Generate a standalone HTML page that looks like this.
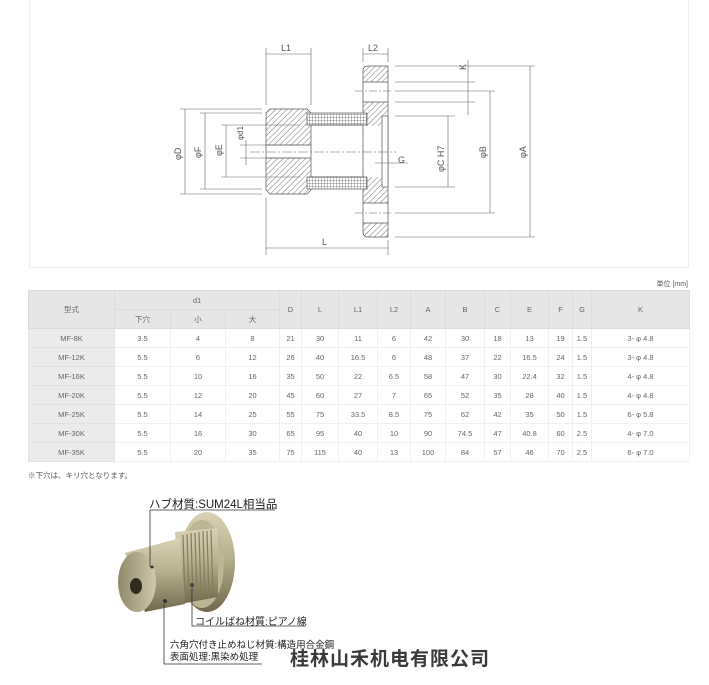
<!DOCTYPE html>
<html><head><meta charset="utf-8"><style>
body{margin:0;width:709px;height:685px;background:#fff;position:relative;overflow:hidden;font-family:"Liberation Sans","Noto Sans CJK JP",sans-serif}
.panel{position:absolute;left:29px;top:0;width:658px;height:267px;border:1px solid #eee;border-top:none;background:#fff}
table{position:absolute;left:28px;top:290px;border-collapse:collapse;font-size:7.5px;color:#666}
td{height:18px;text-align:center;border:1px solid #f0f0f0;padding:0;background:#fff}
tr.h td{background:#e6e6e6;border-color:#dcdcdc}
td.m{background:#ebebeb;border-color:#e2e2e2}
.t{position:absolute;font-size:8px;color:#555;white-space:nowrap}
</style></head><body>
<div class="panel"></div>
<svg style="position:absolute;left:0;top:0" width="709" height="270">
<defs>
<pattern id="h" width="4" height="4" patternUnits="userSpaceOnUse" patternTransform="rotate(45)"><rect width="4" height="4" fill="#fff"/><line x1="0" y1="0" x2="0" y2="4" stroke="#777" stroke-width="1"/></pattern>
<pattern id="g" width="3" height="3" patternUnits="userSpaceOnUse"><rect width="3" height="3" fill="#fff"/><path d="M0 0H3M0 0V3" stroke="#666" stroke-width="0.8"/></pattern>
</defs>
<g stroke="#555" stroke-width="0.7" fill="none">
<path d="M368 66H388V237H368Q363 237 363 232V71Q363 66 368 66Z" fill="url(#h)"/>
<rect x="363.5" y="82" width="24" height="20" fill="#fff" stroke="none"/>
<rect x="363.5" y="203" width="24" height="20" fill="#fff" stroke="none"/>
<line x1="363" y1="82" x2="388" y2="82"/><line x1="363" y1="102" x2="388" y2="102"/>
<line x1="363" y1="203" x2="388" y2="203"/><line x1="363" y1="223" x2="388" y2="223"/>
<rect x="363.5" y="126" width="19" height="51" fill="#fff" stroke="none"/>
<rect x="382" y="116" width="6" height="71" fill="#fff"/>
<path d="M270 109H307L311 113V190L307 194H270L266 190V113Z" fill="url(#h)"/>
<rect x="266.5" y="145" width="44" height="13" fill="#fff" stroke="none"/>
<line x1="266" y1="145" x2="311" y2="145"/><line x1="266" y1="158" x2="311" y2="158"/>
<rect x="307" y="113" width="60" height="12" fill="url(#g)"/>
<rect x="307" y="177" width="60" height="12" fill="url(#g)"/>
<line x1="311" y1="125" x2="363" y2="125"/><line x1="311" y1="177" x2="363" y2="177"/>
</g>
<g stroke="#666" stroke-width="0.6" fill="none">
<line x1="250" y1="152" x2="396" y2="152" stroke-dasharray="10,2,2,2"/>
<line x1="355" y1="91" x2="392" y2="91" stroke-dasharray="8,2,2,2"/>
<line x1="355" y1="213" x2="392" y2="213" stroke-dasharray="8,2,2,2"/>
<line x1="266" y1="48" x2="266" y2="105"/><line x1="311" y1="48" x2="311" y2="105"/>
<line x1="363" y1="48" x2="363" y2="62"/><line x1="388" y1="48" x2="388" y2="62"/>
<line x1="266" y1="198" x2="266" y2="255"/><line x1="388" y1="240" x2="388" y2="255"/>
<line x1="266" y1="54" x2="311" y2="54"/><line x1="363" y1="54" x2="388" y2="54"/>
<line x1="266" y1="248" x2="388" y2="248"/>
<line x1="180" y1="109" x2="262" y2="109"/><line x1="180" y1="194" x2="262" y2="194"/>
<line x1="200" y1="113" x2="262" y2="113"/><line x1="200" y1="189" x2="262" y2="189"/>
<line x1="221" y1="125" x2="300" y2="125"/><line x1="221" y1="177" x2="300" y2="177"/>
<line x1="185" y1="109" x2="185" y2="194"/><line x1="205" y1="113" x2="205" y2="189"/>
<line x1="226" y1="125" x2="226" y2="177"/>
<line x1="246" y1="140" x2="246" y2="165"/><line x1="240" y1="145" x2="300" y2="145"/><line x1="240" y1="158" x2="300" y2="158"/>
<line x1="395" y1="66" x2="535" y2="66"/><line x1="395" y1="82" x2="475" y2="82"/>
<line x1="395" y1="91" x2="495" y2="91"/><line x1="395" y1="102" x2="475" y2="102"/>
<line x1="395" y1="116" x2="455" y2="116"/><line x1="395" y1="187" x2="455" y2="187"/>
<line x1="395" y1="213" x2="495" y2="213"/><line x1="395" y1="237" x2="535" y2="237"/>
<line x1="468" y1="60" x2="468" y2="115"/>
<line x1="448" y1="116" x2="448" y2="187"/><line x1="490" y1="91" x2="490" y2="213"/><line x1="530" y1="66" x2="530" y2="237"/>
<line x1="375" y1="163" x2="408" y2="163"/>
</g>
<g font-size="9" fill="#555" font-family="Liberation Sans,sans-serif">
<text x="281" y="51">L1</text><text x="368" y="51">L2</text><text x="322" y="245">L</text>
<text x="398" y="163">G</text>
<text transform="translate(466,70) rotate(-90)">K</text>
<text transform="translate(181,160) rotate(-90)">φD</text>
<text transform="translate(201,158) rotate(-90)">φF</text>
<text transform="translate(222,156) rotate(-90)">φE</text>
<text transform="translate(243,140) rotate(-90)" font-size="8">φd1</text>
<text transform="translate(444,172) rotate(-90)">φC H7</text>
<text transform="translate(486,158) rotate(-90)">φB</text>
<text transform="translate(526,158) rotate(-90)">φA</text>
</g>
</svg>
<div class="t" style="right:21px;top:279px;font-size:7px">単位 [mm]</div>
<table>
<colgroup><col style="width:86px"><col style="width:56px"><col style="width:55px"><col style="width:54px"><col style="width:22px"><col style="width:37px"><col style="width:39px"><col style="width:33px"><col style="width:35px"><col style="width:39px"><col style="width:26px"><col style="width:38px"><col style="width:24px"><col style="width:19px"><col style="width:98px"></colgroup>
<tr class="h"><td rowspan="2">型式</td><td colspan="3">d1</td><td rowspan="2">D</td><td rowspan="2">L</td><td rowspan="2">L1</td><td rowspan="2">L2</td><td rowspan="2">A</td><td rowspan="2">B</td><td rowspan="2">C</td><td rowspan="2">E</td><td rowspan="2">F</td><td rowspan="2">G</td><td rowspan="2">K</td></tr>
<tr class="h"><td>下穴</td><td>小</td><td>大</td></tr>
<tr><td class="m">MF-8K</td><td>3.5</td><td>4</td><td>8</td><td>21</td><td>30</td><td>11</td><td>6</td><td>42</td><td>30</td><td>18</td><td>13</td><td>19</td><td>1.5</td><td>3- φ 4.8</td></tr>
<tr><td class="m">MF-12K</td><td>5.5</td><td>6</td><td>12</td><td>26</td><td>40</td><td>16.5</td><td>6</td><td>48</td><td>37</td><td>22</td><td>16.5</td><td>24</td><td>1.5</td><td>3- φ 4.8</td></tr>
<tr><td class="m">MF-16K</td><td>5.5</td><td>10</td><td>16</td><td>35</td><td>50</td><td>22</td><td>6.5</td><td>58</td><td>47</td><td>30</td><td>22.4</td><td>32</td><td>1.5</td><td>4- φ 4.8</td></tr>
<tr><td class="m">MF-20K</td><td>5.5</td><td>12</td><td>20</td><td>45</td><td>60</td><td>27</td><td>7</td><td>65</td><td>52</td><td>35</td><td>28</td><td>40</td><td>1.5</td><td>4- φ 4.8</td></tr>
<tr><td class="m">MF-25K</td><td>5.5</td><td>14</td><td>25</td><td>55</td><td>75</td><td>33.5</td><td>8.5</td><td>75</td><td>62</td><td>42</td><td>35</td><td>50</td><td>1.5</td><td>6- φ 5.8</td></tr>
<tr><td class="m">MF-30K</td><td>5.5</td><td>16</td><td>30</td><td>65</td><td>95</td><td>40</td><td>10</td><td>90</td><td>74.5</td><td>47</td><td>40.8</td><td>60</td><td>2.5</td><td>4- φ 7.0</td></tr>
<tr><td class="m">MF-35K</td><td>5.5</td><td>20</td><td>35</td><td>75</td><td>115</td><td>40</td><td>13</td><td>100</td><td>84</td><td>57</td><td>46</td><td>70</td><td>2.5</td><td>6- φ 7.0</td></tr>
</table>
<div class="t" style="left:28px;top:470px;font-size:7.5px">※下穴は、キリ穴となります。</div>
<svg style="position:absolute;left:0;top:480px" width="709" height="205">
<defs>
<linearGradient id="m" x1="0" y1="0" x2="0" y2="1"><stop offset="0" stop-color="#d8d3b6"/><stop offset=".45" stop-color="#b7b08e"/><stop offset="1" stop-color="#6f684b"/></linearGradient>
<linearGradient id="f" x1="0" y1="0" x2="1" y2="0"><stop offset="0" stop-color="#8f8868"/><stop offset="1" stop-color="#cfc9ad"/></linearGradient>
</defs>
<ellipse cx="207" cy="82" rx="28" ry="50" fill="url(#m)"/>
<ellipse cx="202" cy="84" rx="22" ry="44" fill="#bdb695"/>
<path d="M175 52L218 48L218 117L180 124Z" fill="url(#m)"/>
<g stroke="#837c5d" stroke-width="1.2">
<line x1="183" y1="55" x2="185" y2="120"/><line x1="187" y1="54" x2="189" y2="119"/><line x1="191" y1="53" x2="193" y2="119"/><line x1="195" y1="53" x2="197" y2="118"/><line x1="199" y1="52" x2="201" y2="118"/><line x1="203" y1="51" x2="205" y2="117"/><line x1="207" y1="51" x2="209" y2="117"/><line x1="211" y1="50" x2="213" y2="116"/>
</g>
<path d="M125 73L180 58L185 124L145 132Z" fill="url(#m)"/>
<ellipse cx="137" cy="102" rx="19" ry="30" fill="url(#f)"/>
<ellipse cx="136" cy="106" rx="6" ry="8" fill="#2e2b1f"/>
<circle cx="152" cy="87" r="1.5" fill="#333"/><circle cx="192" cy="105" r="2" fill="#444"/><circle cx="165" cy="121" r="2" fill="#333"/>
<g stroke="#333" stroke-width="0.8" fill="none">
<polyline points="150,87 150,30 275,30"/>
<polyline points="192,108 192,146 306,146"/>
<polyline points="164,124 164,184 262,184"/>
</g>
</svg>
<div class="t" style="left:149px;top:496px;font-size:11.5px;color:#222">ハブ材質:SUM24L相当品</div>
<div class="t" style="left:195px;top:613px;font-size:10px;color:#222">コイルばね材質:ピアノ線</div>
<div class="t" style="left:170px;top:640px;font-size:9.5px;color:#222;line-height:12px">六角穴付き止めねじ材質:構造用合金鋼<br>表面処理:黒染め処理</div>
<div class="t" style="left:290px;top:644px;font-size:19px;font-weight:bold;color:#3a3a3a;letter-spacing:1px;text-shadow:0 0 2px #fff,0 0 1px #fff">桂林山禾机电有限公司</div>
</body></html>
